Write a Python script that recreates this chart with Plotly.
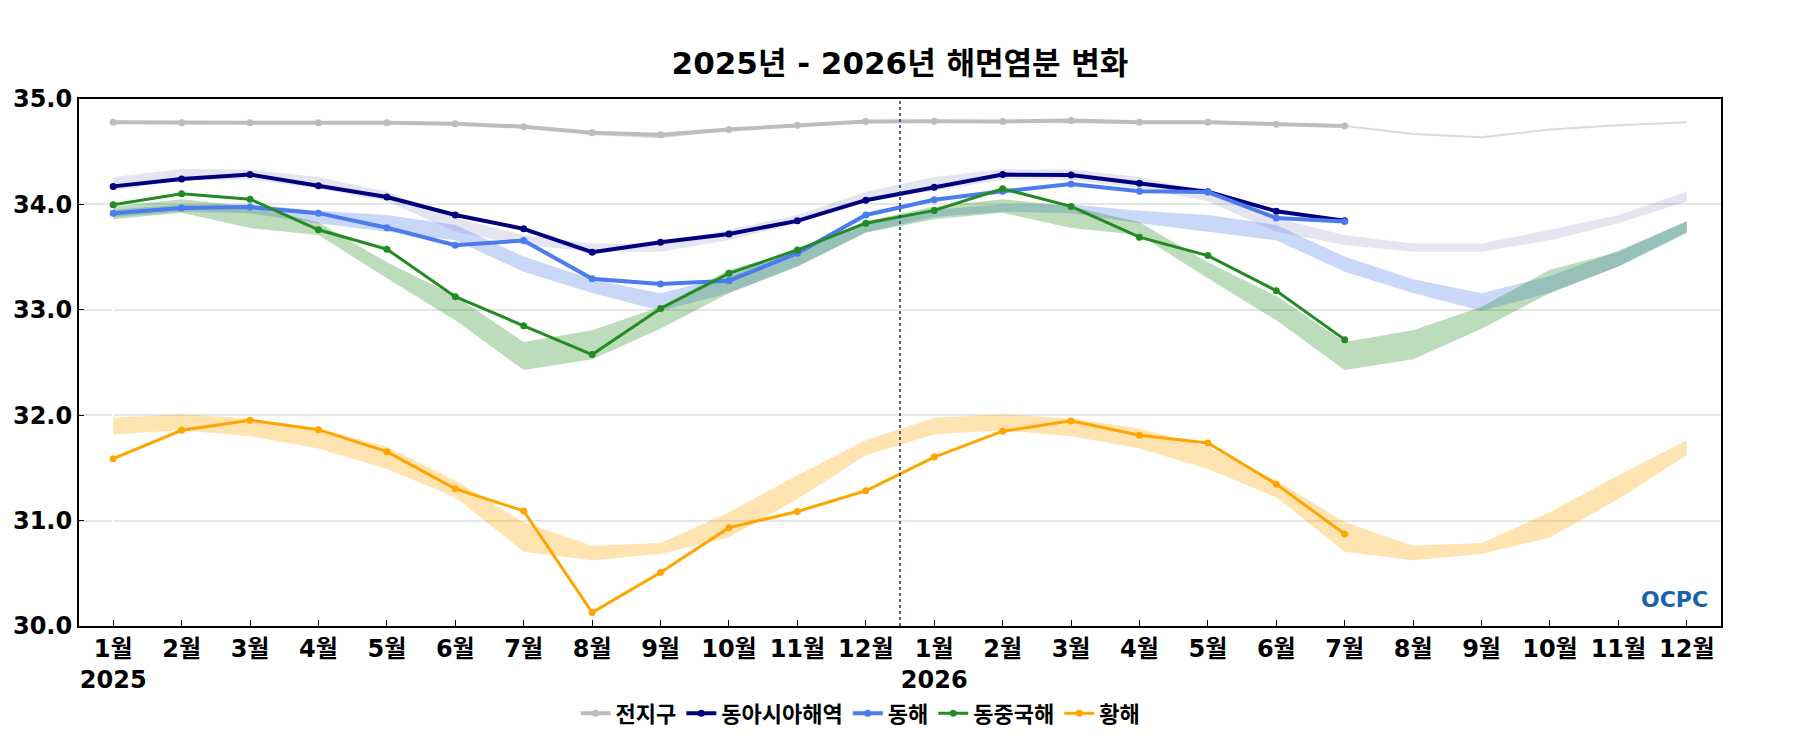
import plotly.graph_objects as go

# x positions (month index over two years)
x_idx = list(range(24))
tick_text = ["1월<br>2025", "2월", "3월", "4월", "5월", "6월", "7월", "8월", "9월", "10월", "11월", "12월",
             "1월<br>2026", "2월", "3월", "4월", "5월", "6월", "7월", "8월", "9월", "10월", "11월", "12월"]

names = ["전지구", "동아시아해역", "동해", "동중국해", "황해"]

# observed salinity (2025-01 .. 2026-07)
global_obs = [34.78, 34.775, 34.775, 34.775, 34.775, 34.765, 34.737, 34.68, 34.66, 34.71, 34.75, 34.787,
              34.79, 34.787, 34.797, 34.78, 34.78, 34.76, 34.743]
east_asia_obs = [34.171, 34.241, 34.283, 34.178, 34.07, 33.90, 33.768, 33.546, 33.641, 33.72, 33.844, 34.04,
                 34.162, 34.283, 34.28, 34.2, 34.12, 33.935, 33.846]
east_sea_obs = [33.917, 33.965, 33.975, 33.917, 33.778, 33.613, 33.657, 33.295, 33.244, 33.276, 33.537, 33.90,
                34.044, 34.124, 34.194, 34.124, 34.117, 33.87, 33.838]
ecs_obs = [33.997, 34.10, 34.05, 33.759, 33.575, 33.124, 32.848, 32.575, 33.013, 33.346, 33.568, 33.822,
           33.943, 34.149, 33.981, 33.689, 33.514, 33.181, 32.717]
yellow_obs = [31.587, 31.857, 31.952, 31.863, 31.654, 31.302, 31.092, 30.127, 30.508, 30.933, 31.086, 31.283,
              31.603, 31.848, 31.946, 31.81, 31.737, 31.346, 30.873]

# climatology (shown for both years)
global_clim = [34.785, 34.78, 34.78, 34.775, 34.775, 34.765, 34.745, 34.667, 34.638, 34.71, 34.75, 34.78,
               34.785, 34.78, 34.78, 34.775, 34.775, 34.765, 34.745, 34.667, 34.638, 34.71, 34.75, 34.78]
east_asia_hi = [34.26, 34.335, 34.33, 34.26, 34.12, 33.87, 33.71, 33.63, 33.63, 33.76, 33.90, 34.12,
                34.26, 34.335, 34.33, 34.26, 34.12, 33.87, 33.71, 33.63, 33.63, 33.76, 33.90, 34.12]
east_asia_lo = [34.13, 34.235, 34.235, 34.15, 34.03, 33.74, 33.615, 33.55, 33.55, 33.66, 33.82, 34.03,
                34.13, 34.235, 34.235, 34.15, 34.03, 33.74, 33.615, 33.55, 33.55, 33.66, 33.82, 34.03]
east_sea_hi = [33.95, 34.0, 34.0, 33.94, 33.90, 33.805, 33.505, 33.29, 33.156, 33.32, 33.56, 33.84,
               33.95, 34.0, 34.0, 33.94, 33.90, 33.805, 33.505, 33.29, 33.156, 33.32, 33.56, 33.84]
east_sea_lo = [33.88, 33.93, 33.915, 33.82, 33.74, 33.66, 33.36, 33.16, 32.99, 33.16, 33.41, 33.735,
               33.88, 33.93, 33.915, 33.82, 33.74, 33.66, 33.36, 33.16, 32.99, 33.16, 33.41, 33.735]
ecs_hi = [33.98, 34.05, 33.98, 33.83, 33.45, 33.13, 32.695, 32.806, 33.03, 33.38, 33.55, 33.84,
          33.98, 34.05, 33.98, 33.83, 33.45, 33.13, 32.695, 32.806, 33.03, 33.38, 33.55, 33.84]
ecs_lo = [33.86, 33.92, 33.775, 33.71, 33.30, 32.90, 32.43, 32.53, 32.82, 33.16, 33.41, 33.73,
          33.86, 33.92, 33.775, 33.71, 33.30, 32.90, 32.43, 32.53, 32.82, 33.16, 33.41, 33.73]
yellow_hi = [31.975, 32.01, 31.968, 31.873, 31.70, 31.38, 30.984, 30.762, 30.787, 31.08, 31.43, 31.762,
             31.975, 32.01, 31.968, 31.873, 31.70, 31.38, 30.984, 30.762, 30.787, 31.08, 31.43, 31.762]
yellow_lo = [31.816, 31.857, 31.80, 31.683, 31.49, 31.222, 30.705, 30.625, 30.683, 30.84, 31.206, 31.62,
             31.816, 31.857, 31.80, 31.683, 31.49, 31.222, 30.705, 30.625, 30.683, 30.84, 31.206, 31.62]

FONT = "DejaVu Sans, Noto Sans CJK KR"

fig = go.Figure()

# climatology bands
bands = [
    (east_asia_hi, east_asia_lo, "rgba(0,0,128,0.1)"),
    (east_sea_hi, east_sea_lo, "rgba(75,123,236,0.3)"),
    (ecs_hi, ecs_lo, "rgba(34,139,34,0.3)"),
    (yellow_hi, yellow_lo, "rgba(255,165,0,0.3)"),
]
for hi, lo, col in bands:
    fig.add_trace(go.Scatter(x=x_idx, y=hi, mode="lines", line=dict(width=0), showlegend=False, hoverinfo="skip"))
    fig.add_trace(go.Scatter(x=x_idx, y=lo, mode="lines", line=dict(width=0), fill="tonexty",
                             fillcolor=col, showlegend=False, hoverinfo="skip"))

fig.add_trace(go.Scatter(x=x_idx, y=global_clim, mode="lines", line=dict(color="#d9d9d9", width=2),
                         showlegend=False, hoverinfo="skip"))

# observed lines
obs = [
    (global_obs, "#bdbdbd", 4),
    (east_asia_obs, "#000080", 4),
    (east_sea_obs, "#4b7bec", 4),
    (ecs_obs, "#228b22", 3),
    (yellow_obs, "#ffa500", 3),
]
for (vals, col, w), nm in zip(obs, names):
    fig.add_trace(go.Scatter(x=x_idx[:len(vals)], y=vals, mode="lines+markers", name=nm,
                             line=dict(color=col, width=w), marker=dict(color=col, size=7)))

# year boundary
fig.add_shape(type="line", x0=11.5, x1=11.5, y0=0, y1=1, xref="x", yref="paper",
              line=dict(color="#1f2f5f", width=1.5, dash="dot"))

fig.add_annotation(text="<b>OCPC</b>", x=0.993, y=0.022, xref="paper", yref="paper",
                   xanchor="right", yanchor="bottom", showarrow=False,
                   font=dict(family="DejaVu Sans", size=22, color="#1a62ad"))

# page body adds 8px margin, so the figure is a bit smaller than the window
fig.update_layout(
    width=1784, height=734,
    margin=dict(l=71, r=71, t=91, b=116, autoexpand=False),
    plot_bgcolor="white", paper_bgcolor="white",
    font=dict(family=FONT, color="black"),
    title=dict(text="<b>2025년 - 2026년 해면염분 변화</b>", x=0.5, xanchor="center", y=0.925, yanchor="middle",
               font=dict(size=31, family=FONT, color="black")),
    legend=dict(orientation="h", x=0.476, xanchor="center", y=-0.166, yanchor="middle",
                traceorder="normal", font=dict(size=22, family=FONT, weight="bold"), itemwidth=30),
    showlegend=True,
)
fig.update_xaxes(range=[-0.5, 23.5], tickmode="array", tickvals=x_idx, ticktext=tick_text,
                 showline=True, linecolor="black", linewidth=2, mirror=True, showgrid=False,
                 ticks="inside", ticklen=6, tickcolor="black", automargin=False,
                 tickfont=dict(size=24, family=FONT, weight="bold"))
fig.update_yaxes(range=[30, 35], dtick=1, tickformat=".1f",
                 showline=True, linecolor="black", linewidth=2, mirror=True,
                 showgrid=True, gridcolor="#e6e6e6", gridwidth=1.5, zeroline=False,
                 ticks="inside", ticklen=5, tickcolor="black", automargin=False,
                 tickfont=dict(size=24, family=FONT, weight="bold"))

fig.write_html("out.html")
